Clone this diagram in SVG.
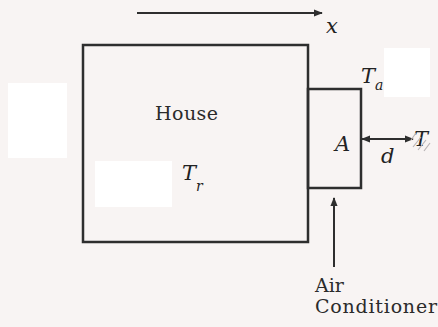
<svg xmlns="http://www.w3.org/2000/svg" width="438" height="327" viewBox="0 0 438 327">
<defs>
<style>
.ln{stroke:#2e2e2e;stroke-width:2;fill:none}
.box{stroke:#2e2e2e;stroke-width:2.5;fill:none}
.lbl{font-family:"DejaVu Serif","Liberation Serif",serif;font-size:19px;fill:#2b2b2b}
.math{font-family:"DejaVu Serif","Liberation Serif",serif;font-style:italic;font-size:21px;fill:#222}
.sub{font-family:"DejaVu Serif","Liberation Serif",serif;font-style:italic;font-size:14px;fill:#222}
.mask{fill:#ffffff}
</style>
<marker id="ah" viewBox="0 0 10 10" refX="9" refY="5" markerWidth="9" markerHeight="9" markerUnits="userSpaceOnUse" orient="auto-start-reverse">
<path d="M0,1 L10,5 L0,9 z" fill="#2e2e2e"/>
</marker>
</defs>
<rect width="438" height="327" fill="#f8f4f3"/>
<rect class="mask" x="8" y="83" width="59" height="75"/>
<rect class="mask" x="384" y="48" width="46" height="49"/>
<rect class="mask" x="95" y="161" width="77" height="46"/>
<g id="house">
<rect class="box" x="83" y="45" width="225" height="197"/>
<text class="lbl" x="155" y="120" textLength="63">House</text>
<text class="math" x="182" y="180">T</text>
<text class="sub" x="196" y="191">r</text>
</g>
<g id="ac">
<rect class="box" x="308" y="89" width="53" height="99"/>
<text class="math" x="335" y="151">A</text>
</g>
<g id="connectors">
<line class="ln" x1="137" y1="13" x2="322" y2="13" marker-end="url(#ah)"/>
<line class="ln" x1="362" y1="139" x2="413" y2="139" marker-start="url(#ah)" marker-end="url(#ah)"/>
<line class="ln" x1="334" y1="267" x2="334" y2="198" marker-end="url(#ah)"/>
</g>
<g id="labels">
<text class="math" x="326" y="33">x</text>
<text class="math" x="361" y="83">T</text>
<text class="sub" x="375" y="90">a</text>
<text class="math" x="381" y="163">d</text>
<text class="math" x="414" y="146" fill="#3a3a3a">T</text>
<path d="M411,140 l5,-7 M413,147 l8,-10 M418,150 l8,-10 M424,151 l6,-8" stroke="#b9b4b6" stroke-width="1.2" fill="none"/>
<text class="lbl" x="315" y="292">Air</text>
<text class="lbl" x="315" y="313" textLength="122">Conditioner</text>
</g>
</svg>
